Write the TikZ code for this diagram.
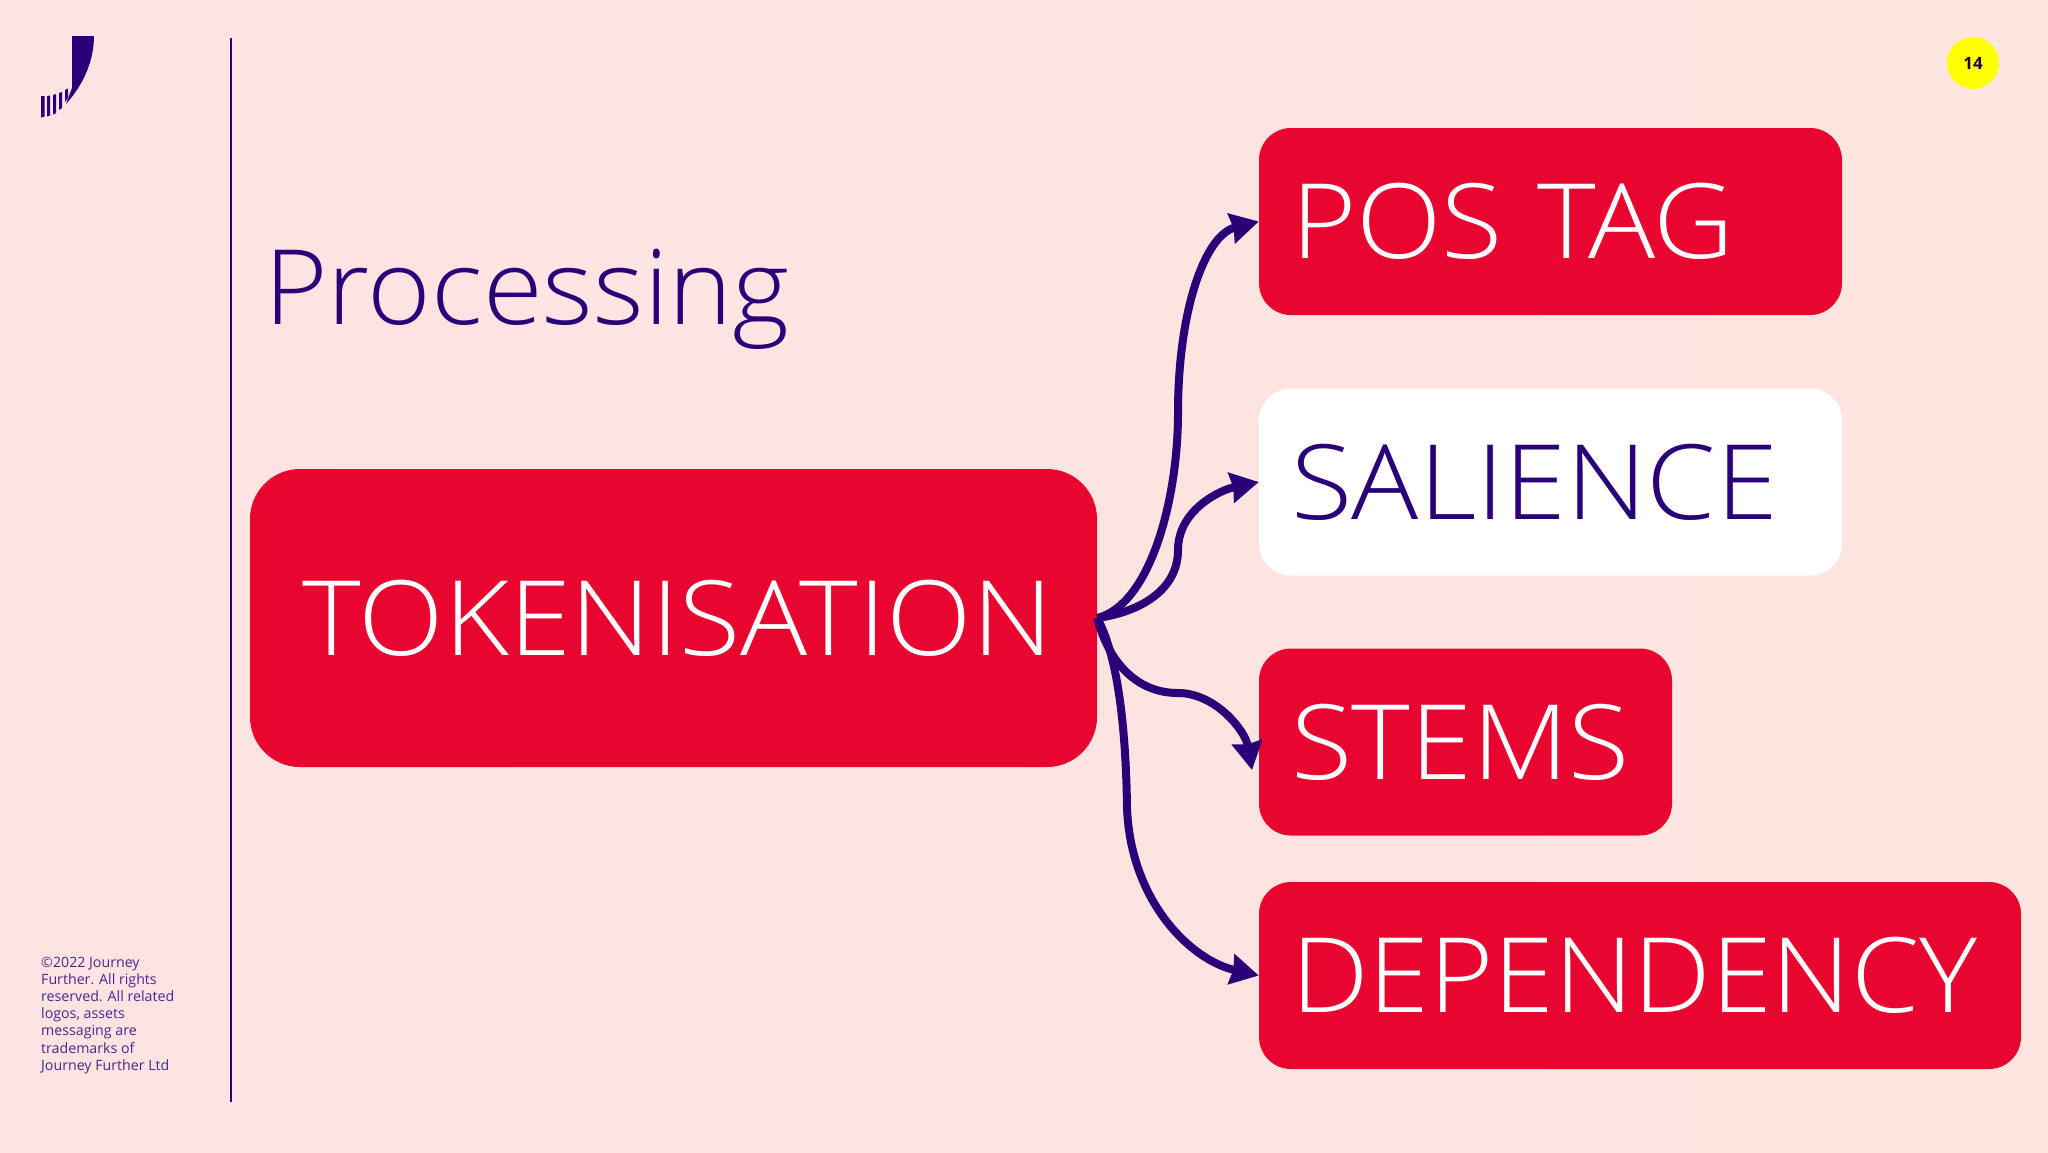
\documentclass[tikz,border=0pt]{standalone}
\usepackage{fontspec}
\setmainfont{Open Sans}
\newfontfamily\lightfont[FakeStretch=1.075]{Open Sans Light}
\newfontfamily\titlefont[FakeStretch=1.045]{Open Sans Light}
\newfontfamily\depfont[FakeStretch=1.057]{Open Sans Light}
\usetikzlibrary{arrows.meta}

\definecolor{jfpinkleft}{HTML}{FEE3E3}
\definecolor{jfpinkright}{HTML}{FDE5E0}
\definecolor{jfred}{HTML}{E80631}
\definecolor{jfnavy}{HTML}{2A0079}
\definecolor{jfyellow}{HTML}{FFFF00}

\tikzset{
	bigtext/.style={font=\lightfont\fontsize{104}{110}\selectfont},
	tagbox/.style={bigtext, fill=jfred, text=white, rounded corners=32pt, minimum height=187pt, inner xsep=32pt, inner ysep=0pt, align=left},
	link/.style={draw=jfnavy, line width=8pt, -{Stealth[length=28pt, width=30pt, inset=2pt]}},
}

\begin{document}
\begin{tikzpicture}[x=1pt, y=-1pt]
	\useasboundingbox[left color=jfpinkleft, right color=jfpinkright] (0,0) rectangle (2048,1152);
	
	% Logo
	\fill[jfnavy] (72,36) -- (94,36) .. controls (94,60) and (84,84) .. (66,104) -- (72,88) -- cycle;
	\fill[jfnavy] (41,96) -- (44.5,96) -- (44.5,116.5) -- (41,117.5) -- cycle;
	\fill[jfnavy] (47,96) -- (50,95.5) -- (50,115.5) -- (47,116.5) -- cycle;
	\fill[jfnavy] (53,95) -- (56,94) -- (56,113) -- (53,114.5) -- cycle;
	\fill[jfnavy] (59,93) -- (62,92) -- (62,108) -- (59,110) -- cycle;
	\fill[jfnavy] (65,90) -- (68,88.5) -- (68,98) -- (65,102) -- cycle;
	
	\coordinate (ruletop) at (231,38);
	\coordinate (rulebottom) at (231,1102);
	\draw[jfnavy, line width=2.5pt] (ruletop) -- (rulebottom);
	
	% Page number
	\node[circle, fill=jfyellow, minimum size=52pt, inner sep=0pt, text=jfnavy!60!black, font=\bfseries\fontsize{17}{20}\selectfont] (pagenum) at (1973,63) {14};
	
	\node[anchor=base west, inner sep=0pt, text=jfnavy, font=\titlefont\fontsize{104}{110}\selectfont] (title) at (264,324) {Processing};
	
	\node[anchor=north west, inner sep=0pt, text=jfnavy!85, align=left, font=\fontsize{14.2}{17.1}\selectfont] (copyright) at (41,957) {\copyright2022 Journey\\Further. All rights\\reserved. All related\\logos, assets\\messaging are\\trademarks of\\Journey Further Ltd};
	
	% Boxes
	\node[tagbox, rounded corners=50pt, minimum width=847pt, minimum height=298pt, align=center] (token) at (673.5,618) {\hspace{8pt}TOKENISATION};
	\node[tagbox, text width=519pt] (postag) at (1550.5,221.5) {POS TAG};
	\node[tagbox, fill=white, text=jfnavy, text width=519pt] (salience) at (1550.5,482) {SALIENCE};
	\node[tagbox, text width=349pt] (stems) at (1465.5,742) {STEMS};
	\node[tagbox, font=\depfont\fontsize{104}{110}\selectfont, text width=698pt] (dependency) at (1640,975.5) {DEPENDENCY};
	
	\coordinate (stemstip) at (1252,770);
	
	% Arrows
	\draw[link] (token.east) .. controls (1150,605) and (1178,500) .. (1178,413) .. controls (1178,310) and (1205,235) .. (postag.west);
	\draw[link] (token.east) .. controls (1140,612) and (1178,590) .. (1178,550) .. controls (1178,510) and (1220,490) .. (salience.west);
	\draw[link] (token.east) .. controls (1108,660) and (1135,693) .. (1178,693) .. controls (1215,693) and (1245,730) .. (stemstip);
	\draw[link] (token.east) .. controls (1120,660) and (1126,740) .. (1127,807) .. controls (1130,900) and (1190,960) .. (dependency.west);
	
\end{tikzpicture}
\end{document}
